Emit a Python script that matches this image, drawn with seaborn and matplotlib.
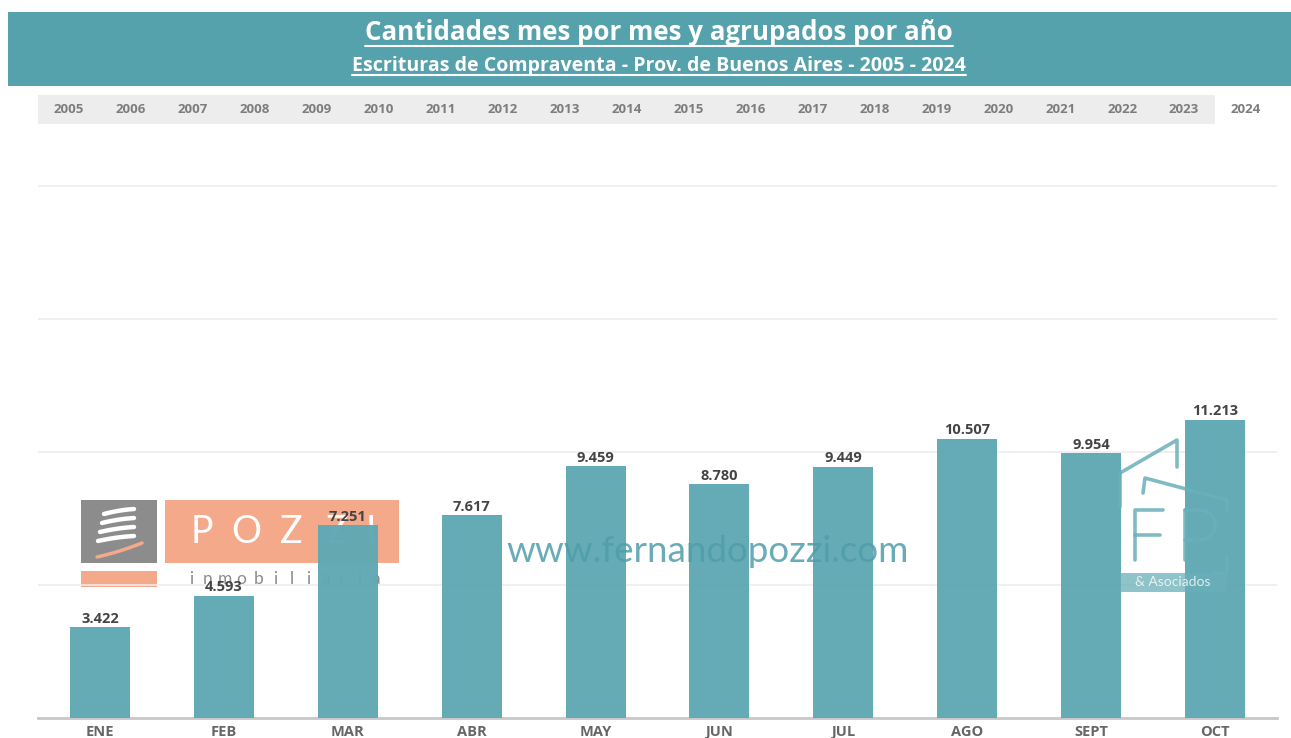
import numpy as np
import pandas as pd
import matplotlib
matplotlib.use("Agg")
import matplotlib.pyplot as plt
from matplotlib.patches import Rectangle, Arc
import seaborn as sns

# data
months = ["ENE", "FEB", "MAR", "ABR", "MAY", "JUN", "JUL", "AGO", "SEPT", "OCT"]
cantidades = [3422, 4593, 7251, 7617, 9459, 8780, 9449, 10507, 9954, 11213]
years = [str(y) for y in range(2005, 2025)]
selected_year = "2024"

title = "Cantidades mes por mes y agrupados por año"
subtitle = "Escrituras de Compraventa - Prov. de Buenos Aires - 2005 - 2024"

W, H = 1291, 738
TEAL = "#5fa8b3"
BAR_HEAD = "#55a2ac"
ORANGE = "#f3a98a"

sns.set_theme(style="white")
plt.rcParams['font.family'] = ['Open Sans', 'DejaVu Sans']

df = pd.DataFrame({"mes": months, "cantidad": cantidades})

fig = plt.figure(figsize=(W / 100, H / 100), dpi=100)

# background overlay in pixel coords (logo under the bars)
back = fig.add_axes([0, 0, 1, 1], zorder=0)
back.set_xlim(0, W)
back.set_ylim(H, 0)
back.axis("off")

# title band
back.add_patch(Rectangle((8, 12), W - 8, 74, color=BAR_HEAD, lw=0))
# year tabs
back.add_patch(Rectangle((38, 95), 1239, 29, color="#ededed", lw=0))
tab_w = 1239 / len(years)
for i, y in enumerate(years):
    cx = 38 + tab_w * (i + 0.5)
    if y == selected_year:
        back.add_patch(Rectangle((38 + tab_w * i, 95), tab_w, 29, color="white", lw=0))
    back.text(cx, 109.5, y, ha="center", va="center", fontsize=9.5,
              color="#7d7d7d", fontweight="bold")

# pozzi logo watermark
back.add_patch(Rectangle((81, 500), 76, 63, color="#8c8c8c", lw=0))
tt = np.linspace(0, 1, 20)
for k in range(4):
    xs = 104 + 30 * tt
    ys = 511 + k * 9 + 3 * (1 - tt) ** 2 - 2 * tt
    back.plot(xs - 4 * k * (1 - tt) * 0.5, ys, color="white", lw=3.2,
              solid_capstyle="round")
back.plot(97 + 45 * tt, 557 - 14 * tt + 4 * tt * (1 - tt), color=ORANGE, lw=2.5)
back.add_patch(Rectangle((165, 500), 234, 63, color=ORANGE, lw=0))
for ch, cx in zip("POZZI", [202, 246, 291, 337, 371]):
    back.text(cx, 532, ch, ha="center", va="center", fontsize=27,
              color="white", family="Lato")
back.add_patch(Rectangle((81, 571), 76, 16, color=ORANGE, lw=0))
for j, ch in enumerate("inmobiliaria"):
    back.text(191 + j * 16.8, 579, ch, ha="center", va="center",
              fontsize=12.5, color="#8c8c8c", family="Lato")

# main chart
ax = fig.add_axes([38 / W, (H - 718) / H, 1239 / W, 594 / H], zorder=1)
ax.set_facecolor("none")
sns.barplot(data=df, x="mes", y="cantidad", color=TEAL, saturation=1,
            width=0.485, ax=ax, zorder=3, alpha=0.97, linewidth=0)
ax.set_ylim(0, 22330)
ax.set_xlim(-0.5, len(months) - 0.5)
ax.set_yticks([5000, 10000, 15000, 20000])
ax.set_yticklabels([])
ax.tick_params(axis="y", length=0)
ax.grid(axis="y", color="#ececec", lw=1.2, zorder=0)
ax.set_xlabel("")
ax.set_ylabel("")
for s in ["top", "right", "left"]:
    ax.spines[s].set_visible(False)
ax.spines["bottom"].set_color("#c8c8c8")
ax.spines["bottom"].set_linewidth(2)
ax.tick_params(axis="x", length=0, pad=5, labelsize=10.5, labelcolor="#666666")
for lab in ax.get_xticklabels():
    lab.set_fontweight("bold")
labels = [f"{v:,}".replace(",", ".") for v in cantidades]
ax.bar_label(ax.containers[0], labels=labels, padding=1, fontsize=10.5,
             color="#444444", fontweight="bold")

# front overlay (watermarks on top)
front = fig.add_axes([0, 0, 1, 1], zorder=2)
front.set_xlim(0, W)
front.set_ylim(H, 0)
front.axis("off")
front.patch.set_alpha(0)
front.text(708, 551, "www.fernandopozzi.com", ha="center", va="center",
           fontsize=26.5, color="#4f9eaa", alpha=0.85, family="Lato")
lc = "#6aafb9"
fa = 0.85
lw = 2.6
front.plot([1120, 1177, 1177], [473, 440, 467], color=lc, lw=lw, alpha=fa)
front.plot([1120, 1120], [473, 507], color=lc, lw=lw, alpha=fa)
front.plot([1143, 1145, 1227, 1227], [493, 478, 500, 510], color=lc, lw=lw, alpha=fa)
front.plot([1163, 1135, 1135], [510, 510, 560], color=lc, lw=lw, alpha=fa)
front.plot([1135, 1160], [535, 535], color=lc, lw=lw, alpha=fa)
front.plot([1185, 1185], [560, 510], color=lc, lw=lw, alpha=fa)
front.add_patch(Arc((1200, 525), 30, 30, theta1=-90, theta2=90, color=lc, lw=lw, alpha=fa))
front.plot([1185, 1200], [510, 510], color=lc, lw=lw, alpha=fa)
front.plot([1185, 1200], [540, 540], color=lc, lw=lw, alpha=fa)
front.plot([1227, 1227, 1215], [557, 573, 573], color=lc, lw=lw, alpha=fa)
front.add_patch(Rectangle((1120, 573), 107, 19, color=lc, lw=0, alpha=0.75))
front.text(1173, 582, "& Asociados", ha="center", va="center", fontsize=10,
           color="white", alpha=0.8, family="Lato")

# titles with underline
t1 = back.text(659, 33, title, ha="center", va="center", fontsize=18,
               color="white", fontweight="bold")
t2 = back.text(659, 66, subtitle, ha="center", va="center", fontsize=12,
               color="white", fontweight="bold")
fig.canvas.draw()
r = fig.canvas.get_renderer()
for t, target in [(t1, 590), (t2, 611)]:
    bb = t.get_window_extent(r)
    t.set_fontsize(t.get_fontsize() * target / bb.width)
fig.canvas.draw()
for t, off in [(t1, 13), (t2, 9)]:
    bb = t.get_window_extent(r)
    yline = t.get_position()[1] + off
    back.plot([bb.x0, bb.x1], [yline, yline], color="white", lw=1.5)

fig.savefig("out.png", dpi=100)
